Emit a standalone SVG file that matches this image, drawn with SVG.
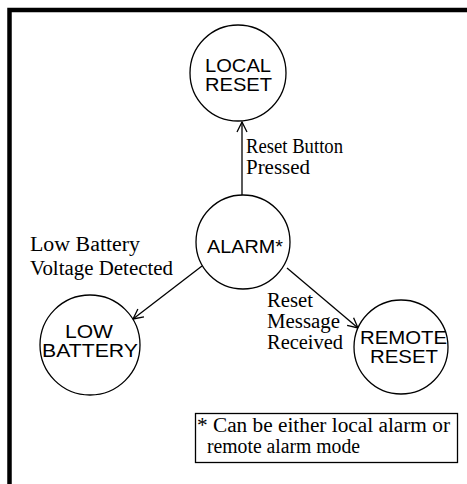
<svg xmlns="http://www.w3.org/2000/svg" width="467" height="484" viewBox="0 0 467 484">
<style>
.st{fill:#fff;stroke:#000;stroke-width:1.3}
.nt{font-family:"Liberation Sans",Arial,sans-serif;font-size:18px;fill:#000;text-anchor:middle}
.lb{font-family:"Liberation Serif","Times New Roman",serif;font-size:20px;fill:#000}
.cn{stroke:#000;stroke-width:1.3;fill:none}
</style>
<defs>
<marker id="ah" viewBox="0 0 12 12" refX="11" refY="6" markerWidth="12" markerHeight="12" markerUnits="userSpaceOnUse" orient="auto">
<path d="M1,1 L11,6 L1,11" fill="none" stroke="#000" stroke-width="1.3"/>
</marker>
</defs>
<rect width="467" height="484" fill="#fff"/>
<path d="M9.5,484 V10 H467" fill="none" stroke="#000" stroke-width="4.5"/>
<g id="connectors">
<line class="cn" x1="242" y1="195" x2="242" y2="122" marker-end="url(#ah)"/>
<line class="cn" x1="202" y1="266" x2="133" y2="319" marker-end="url(#ah)"/>
<line class="cn" x1="287" y1="268" x2="358" y2="328" marker-end="url(#ah)"/>
</g>
<g id="local-reset">
<circle class="st" cx="238" cy="73" r="48"/>
<text class="nt" x="238" y="72" textLength="66" lengthAdjust="spacingAndGlyphs">LOCAL</text>
<text class="nt" x="238.5" y="91" textLength="67" lengthAdjust="spacingAndGlyphs">RESET</text>
</g>
<g id="alarm">
<circle class="st" cx="243" cy="242" r="47"/>
<text class="nt" x="245" y="253" textLength="76" lengthAdjust="spacingAndGlyphs">ALARM*</text>
</g>
<g id="low-battery">
<circle class="st" cx="90" cy="345" r="50"/>
<text class="nt" x="89" y="338" textLength="48" lengthAdjust="spacingAndGlyphs">LOW</text>
<text class="nt" x="90" y="357" textLength="96" lengthAdjust="spacingAndGlyphs">BATTERY</text>
</g>
<g id="remote-reset">
<circle class="st" cx="401" cy="347" r="47"/>
<text class="nt" x="403.5" y="344" textLength="87" lengthAdjust="spacingAndGlyphs">REMOTE</text>
<text class="nt" x="404" y="363" textLength="68" lengthAdjust="spacingAndGlyphs">RESET</text>
</g>
<g id="labels">
<text class="lb" x="246" y="153" textLength="97" lengthAdjust="spacingAndGlyphs">Reset Button</text>
<text class="lb" x="246" y="174" textLength="64" lengthAdjust="spacingAndGlyphs">Pressed</text>
<text class="lb" x="30" y="251" textLength="110" lengthAdjust="spacingAndGlyphs">Low Battery</text>
<text class="lb" x="30" y="275" textLength="143" lengthAdjust="spacingAndGlyphs">Voltage Detected</text>
<text class="lb" x="267" y="307" textLength="46" lengthAdjust="spacingAndGlyphs">Reset</text>
<text class="lb" x="267" y="328" textLength="73" lengthAdjust="spacingAndGlyphs">Message</text>
<text class="lb" x="267" y="349" textLength="76" lengthAdjust="spacingAndGlyphs">Received</text>
</g>
<g id="footnote">
<rect x="195.5" y="413.5" width="262" height="49" fill="#fff" stroke="#000" stroke-width="1.3"/>
<text class="lb" x="197" y="432" textLength="253" lengthAdjust="spacingAndGlyphs">* Can be either local alarm or</text>
<text class="lb" x="207" y="453" textLength="153" lengthAdjust="spacingAndGlyphs">remote alarm mode</text>
</g>
</svg>
